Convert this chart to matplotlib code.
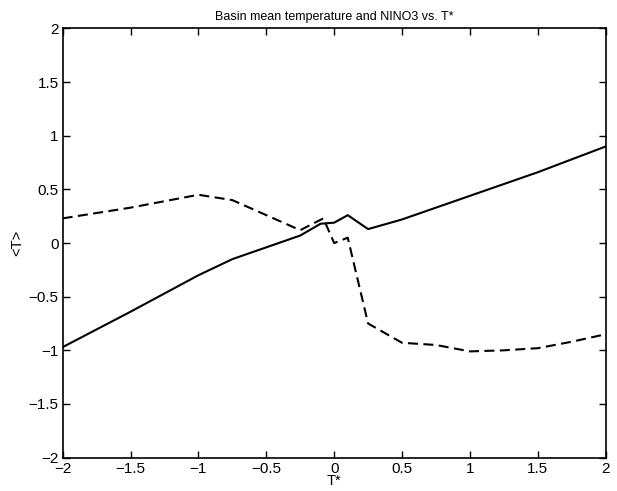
import numpy as np
import matplotlib.pyplot as plt

# basin mean temperature <T> vs T*
tstar_basin = [-2, -1.5, -1, -0.75, -0.5, -0.25, -0.1, 0, 0.1, 0.25, 0.5, 0.75, 1, 1.5, 2]
t_basin = [-0.97, -0.64, -0.30, -0.15, -0.04, 0.07, 0.18, 0.19, 0.26, 0.13, 0.22, 0.33, 0.44, 0.66, 0.90]

# NINO3 vs T*
tstar_nino = [-2, -1.5, -1, -0.75, -0.5, -0.25, -0.08, 0, 0.1, 0.25, 0.5, 0.75, 1, 1.25, 1.5, 1.75, 2]
t_nino = [0.23, 0.33, 0.45, 0.40, 0.26, 0.12, 0.23, 0.0, 0.05, -0.75, -0.93, -0.95, -1.01, -1.00, -0.98, -0.92, -0.85]

xticks = [-2, -1.5, -1, -0.5, 0, 0.5, 1, 1.5, 2]
yticks = [-2, -1.5, -1, -0.5, 0, 0.5, 1, 1.5, 2]
xticklabels = ['\u22122', '\u22121.5', '\u22121', '\u22120.5', '0', '0.5', '1', '1.5', '2']
yticklabels = ['\u22122', '\u22121.5', '\u22121', '\u22120.5', '0', '0.5', '1', '1.5', '2']

plt.rcParams['font.family'] = ['Liberation Sans', 'DejaVu Sans']

fig = plt.figure(figsize=(6.17, 4.91), dpi=100)
ax = fig.add_axes([0.1016, 0.068, 0.8800, 0.874])

ax.plot(tstar_basin, t_basin, color='k', lw=1.5)
ax.plot(tstar_nino, t_nino, color='k', lw=1.5, dashes=(4.8, 2.6))

ax.set_xlim(-2, 2)
ax.set_ylim(-2, 2)
ax.set_xticks(xticks)
ax.set_xticklabels(xticklabels, fontsize=11)
ax.set_yticks(yticks)
ax.set_yticklabels(yticklabels, fontsize=11)
ax.tick_params(direction='in', length=5, width=1, top=True, right=True, pad=3)
for s in ax.spines.values():
    s.set_linewidth(1.2)

ax.set_xlabel('T*', fontsize=10.5, labelpad=-1)
ax.set_ylabel('<T>', fontsize=10.5, labelpad=3)
ax.set_title('Basin mean temperature and NINO3 vs. T*', fontsize=9, pad=6)

fig.savefig('out.png', dpi=100)
